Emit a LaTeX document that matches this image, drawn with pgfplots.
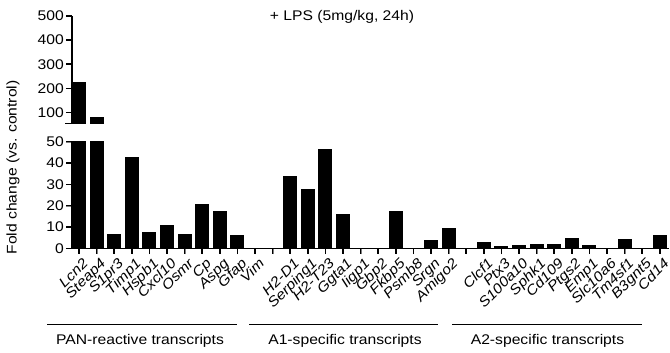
\documentclass[border=0pt]{standalone}
\usepackage{fontspec}
\setmainfont{Liberation Sans}[FakeStretch=1.12]
\usepackage{pgfplots}
\pgfplotsset{compat=1.18}
\usepackage{pgfplotstable}

\pgfplotstableread{
x y
0 225
1 80
2 6.5
3 42.5
4 7.5
5 10.5
6 6.5
7 20.5
8 17.2
9 5.8
10 0
12 33.7
13 27.8
14 46.3
15 16
16 0
17 0
18 17.2
19 0
20 3.8
21 9.2
23 2.8
24 0.8
25 1.2
26 1.7
27 1.7
28 4.7
29 1.2
30 0
31 4.2
32 0
33 5.8
}\data

\pgfplotstableread{
x y
0 225
1 80
}\datahigh

\begin{document}
\begin{tikzpicture}
\path[use as bounding box] (0pt,0pt) rectangle (670pt,353pt);
\pgfplotsset{common/.style={
  scale only axis, width=596.6pt, xmin=-0.4, xmax=33.5,
  anchor=south west, clip mode=individual,
  /pgf/number format/assume math mode=true,
  yticklabel style={font=\fontsize{14}{16}\selectfont, inner sep=2pt},
}, mytick/.style={
  axis line style={line width=1.5pt,-},
  every outer x axis line/.append style={-},
  every outer y axis line/.append style={-},
  every inner x axis line/.append style={-},
  every inner y axis line/.append style={-},
  major tick length=6pt,
  xtick align=outside, ytick align=outside,
}}
\begin{axis}[common, at={(72pt,104.7pt)}, height=106.6pt,
  ymin=0, ymax=50,
  axis x line*=bottom, axis y line*=left,
  xtick pos=bottom, ytick pos=left, mytick,
  ytick={0,10,20,30,40,50},
  xtick={0,...,33},
  xticklabels={Lcn2,Steap4,S1pr3,Timp1,Hspb1,Cxcl10,Osmr,Cp,Aspg,Gfap,Vim,{},H2-D1,Serping1,H2-T23,Ggta1,Iigp1,Gbp2,Fkbp5,Psmb8,Srgn,Amigo2,{},Clcf1,Ptx3,S100a10,Sphk1,Cd109,Ptgs2,Emp1,Slc10a6,Tm4sf1,B3gnt5,Cd14},
  xticklabel style={rotate=45, anchor=north east, font=\itshape\fontsize{14}{16}\selectfont, inner sep=1pt, xshift=1pt, yshift=-3pt},
]
\addplot[ybar, bar width=13pt, fill=black, draw=black, line width=0pt] table[x=x,y=y]{\data};
\pgfplotsinvokeforeach{0,...,33}{
  \draw[line width=1.5pt] (axis cs:#1,0) -- ([yshift=-6pt]axis cs:#1,0);
}
\pgfplotsinvokeforeach{0,10,20,30,40,50}{
  \draw[line width=1.5pt] (axis cs:-0.4,#1) -- ([xshift=-6pt]axis cs:-0.4,#1);
}
\end{axis}
\begin{axis}[common, at={(72pt,229.7pt)}, height=107.3pt,
  ymin=55, ymax=500,
  axis x line=none, axis y line*=left,
  ytick pos=left, mytick,
  ytick={100,200,300,400,500},
  xtick=\empty,
]
\addplot[ybar, bar width=13pt, fill=black, draw=black, line width=0pt] table[x=x,y=y]{\datahigh};
\pgfplotsinvokeforeach{100,200,300,400,500}{
  \draw[line width=1.5pt] (axis cs:-0.4,#1) -- ([xshift=-6pt]axis cs:-0.4,#1);
}
\end{axis}
\draw[line width=1.5pt] (65pt,229.7pt) -- (77pt,229.7pt);
\draw[line width=1.5pt] (71pt,211.3pt) -- (77pt,211.3pt);
\node[font=\fontsize{14}{16}\selectfont] at (342pt,336pt) {+ LPS (5mg/kg, 24h)};
\node[font=\fontsize{14}{16}\selectfont, rotate=90] at (13pt,185.5pt) {Fold change (vs. control)};
\draw[line width=1.5pt] (47pt,28.7pt) -- (237pt,28.7pt);
\draw[line width=1.5pt] (249pt,28.7pt) -- (438pt,28.7pt);
\draw[line width=1.5pt] (452pt,28.7pt) -- (642pt,28.7pt);
\node[font=\fontsize{14}{16}\selectfont, anchor=base] at (140pt,8pt) {PAN-reactive transcripts};
\node[font=\fontsize{14}{16}\selectfont, anchor=base] at (345pt,8pt) {A1-specific transcripts};
\node[font=\fontsize{14}{16}\selectfont, anchor=base] at (547.5pt,8pt) {A2-specific transcripts};
\end{tikzpicture}
\end{document}
